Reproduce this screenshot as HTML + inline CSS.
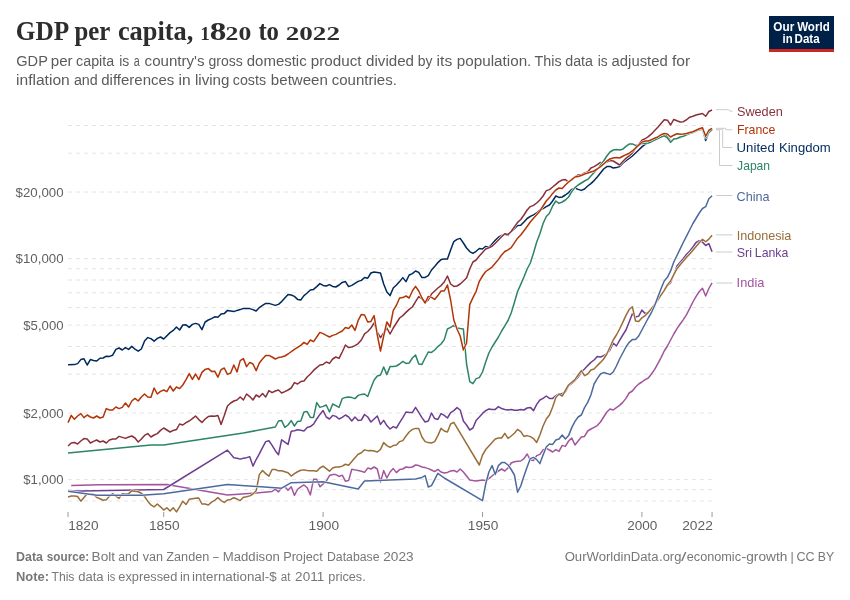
<!DOCTYPE html>
<html lang="en">
<head>
<meta charset="utf-8">
<title>GDP per capita, 1820 to 2022</title>
<style>
html,body{margin:0;padding:0;background:#fff;}
body{width:850px;height:600px;overflow:hidden;font-family:"Liberation Sans",sans-serif;}
svg{display:block;}
.sans{font-family:"Liberation Sans",sans-serif;}
.serif{font-family:"Liberation Serif",serif;}
</style>
</head>
<body>
<svg width="850" height="600" viewBox="0 0 850 600">
<rect x="0" y="0" width="850" height="600" fill="#ffffff"/>

<!-- header -->
<text class="serif" y="40" font-size="27" font-weight="700" fill="#2d2d2d"><tspan x="15.87" font-size="27" textLength="52.05" lengthAdjust="spacingAndGlyphs">GDP</tspan> <tspan x="74.39" font-size="27" textLength="35.47" lengthAdjust="spacingAndGlyphs">per</tspan> <tspan x="117.88" font-size="27" textLength="75.44" lengthAdjust="spacingAndGlyphs">capita,</tspan> <tspan x="200.28" font-size="18.8" textLength="9.61" lengthAdjust="spacingAndGlyphs">1</tspan><tspan x="209.85" font-size="25.8" textLength="16.59" lengthAdjust="spacingAndGlyphs">8</tspan><tspan x="225.55" font-size="18.8" textLength="25.69" lengthAdjust="spacingAndGlyphs">20</tspan> <tspan x="258.38" font-size="27" textLength="20.63" lengthAdjust="spacingAndGlyphs">to</tspan> <tspan x="285.75" font-size="18.8" textLength="54.21" lengthAdjust="spacingAndGlyphs">2022</tspan></text>
<text class="sans" y="66.4" font-size="14" fill="#5b5b5b"><tspan x="16.27" textLength="31.37" lengthAdjust="spacingAndGlyphs">GDP</tspan> <tspan x="50.79" textLength="21.83" lengthAdjust="spacingAndGlyphs">per</tspan> <tspan x="76.14" textLength="38.06" lengthAdjust="spacingAndGlyphs">capita</tspan> <tspan x="119.13" textLength="10.10" lengthAdjust="spacingAndGlyphs">is</tspan> <tspan x="133.81" textLength="5.99" lengthAdjust="spacingAndGlyphs">a</tspan> <tspan x="144.58" textLength="59.98" lengthAdjust="spacingAndGlyphs">country's</tspan> <tspan x="208.48" textLength="34.24" lengthAdjust="spacingAndGlyphs">gross</tspan> <tspan x="246.79" textLength="59.87" lengthAdjust="spacingAndGlyphs">domestic</tspan> <tspan x="310.83" textLength="50.73" lengthAdjust="spacingAndGlyphs">product</tspan> <tspan x="366.07" textLength="47.97" lengthAdjust="spacingAndGlyphs">divided</tspan> <tspan x="417.63" textLength="14.73" lengthAdjust="spacingAndGlyphs">by</tspan> <tspan x="436.60" textLength="15.60" lengthAdjust="spacingAndGlyphs">its</tspan> <tspan x="456.82" textLength="74.53" lengthAdjust="spacingAndGlyphs">population.</tspan> <tspan x="534.59" textLength="27.08" lengthAdjust="spacingAndGlyphs">This</tspan> <tspan x="565.29" textLength="27.71" lengthAdjust="spacingAndGlyphs">data</tspan> <tspan x="597.80" textLength="9.92" lengthAdjust="spacingAndGlyphs">is</tspan> <tspan x="611.63" textLength="56.04" lengthAdjust="spacingAndGlyphs">adjusted</tspan> <tspan x="671.94" textLength="18.31" lengthAdjust="spacingAndGlyphs">for</tspan></text>
<text class="sans" y="84.6" font-size="14" fill="#5b5b5b"><tspan x="16.00" textLength="53.74" lengthAdjust="spacingAndGlyphs">inflation</tspan> <tspan x="73.90" textLength="23.83" lengthAdjust="spacingAndGlyphs">and</tspan> <tspan x="101.24" textLength="73.12" lengthAdjust="spacingAndGlyphs">differences</tspan> <tspan x="178.64" textLength="12.13" lengthAdjust="spacingAndGlyphs">in</tspan> <tspan x="194.94" textLength="34.42" lengthAdjust="spacingAndGlyphs">living</tspan> <tspan x="232.78" textLength="33.24" lengthAdjust="spacingAndGlyphs">costs</tspan> <tspan x="270.86" textLength="57.03" lengthAdjust="spacingAndGlyphs">between</tspan> <tspan x="331.78" textLength="65.07" lengthAdjust="spacingAndGlyphs">countries.</tspan></text>

<!-- logo -->
<g>
<rect x="769" y="16" width="65" height="36" fill="#002147"/>
<rect x="769" y="49" width="65" height="3" fill="#ce261e"/>
<text class="sans" y="30.7" font-size="12.2" font-weight="700" fill="#ffffff"><tspan x="773.34" textLength="20.87" lengthAdjust="spacingAndGlyphs">Our</tspan> <tspan x="797.15" textLength="32.62" lengthAdjust="spacingAndGlyphs">World</tspan></text>
<text class="sans" y="42.7" font-size="12.2" font-weight="700" fill="#ffffff"><tspan x="782.60" textLength="10.09" lengthAdjust="spacingAndGlyphs">in</tspan> <tspan x="794.52" textLength="25.13" lengthAdjust="spacingAndGlyphs">Data</tspan></text>
</g>

<!-- y axis labels -->
<g class="sans" font-size="13" fill="#5f5f5f">
<text x="15.60" y="196.6" textLength="47.91" lengthAdjust="spacingAndGlyphs">$20,000</text>
<text x="15.60" y="263.0" textLength="47.91" lengthAdjust="spacingAndGlyphs">$10,000</text>
<text x="23.30" y="329.7" textLength="40.21" lengthAdjust="spacingAndGlyphs">$5,000</text>
<text x="23.30" y="417.6" textLength="40.21" lengthAdjust="spacingAndGlyphs">$2,000</text>
<text x="23.30" y="484.2" textLength="40.21" lengthAdjust="spacingAndGlyphs">$1,000</text>
</g>

<!-- chart lines -->
<line x1="68.05" x2="712.05" y1="501.02" y2="501.02" stroke="#e4e4e4" stroke-dasharray="4,4" stroke-width="1"/>
<line x1="68.05" x2="712.05" y1="489.71" y2="489.71" stroke="#e4e4e4" stroke-dasharray="4,4" stroke-width="1"/>
<line x1="68.05" x2="712.05" y1="479.60" y2="479.60" stroke="#e4e4e4" stroke-dasharray="4,4" stroke-width="1"/>
<line x1="68.05" x2="712.05" y1="413.07" y2="413.07" stroke="#e4e4e4" stroke-dasharray="4,4" stroke-width="1"/>
<line x1="68.05" x2="712.05" y1="374.16" y2="374.16" stroke="#e4e4e4" stroke-dasharray="4,4" stroke-width="1"/>
<line x1="68.05" x2="712.05" y1="346.54" y2="346.54" stroke="#e4e4e4" stroke-dasharray="4,4" stroke-width="1"/>
<line x1="68.05" x2="712.05" y1="325.13" y2="325.13" stroke="#e4e4e4" stroke-dasharray="4,4" stroke-width="1"/>
<line x1="68.05" x2="712.05" y1="307.63" y2="307.63" stroke="#e4e4e4" stroke-dasharray="4,4" stroke-width="1"/>
<line x1="68.05" x2="712.05" y1="292.83" y2="292.83" stroke="#e4e4e4" stroke-dasharray="4,4" stroke-width="1"/>
<line x1="68.05" x2="712.05" y1="280.02" y2="280.02" stroke="#e4e4e4" stroke-dasharray="4,4" stroke-width="1"/>
<line x1="68.05" x2="712.05" y1="268.71" y2="268.71" stroke="#e4e4e4" stroke-dasharray="4,4" stroke-width="1"/>
<line x1="68.05" x2="712.05" y1="258.60" y2="258.60" stroke="#e4e4e4" stroke-dasharray="4,4" stroke-width="1"/>
<line x1="68.05" x2="712.05" y1="192.07" y2="192.07" stroke="#e4e4e4" stroke-dasharray="4,4" stroke-width="1"/>
<line x1="68.05" x2="712.05" y1="153.16" y2="153.16" stroke="#e4e4e4" stroke-dasharray="4,4" stroke-width="1"/>
<line x1="68.05" x2="712.05" y1="125.54" y2="125.54" stroke="#e4e4e4" stroke-dasharray="4,4" stroke-width="1"/>
<polyline fill="none" stroke="#fff" stroke-width="2.5" stroke-linejoin="round" stroke-linecap="butt" points="68.05,364.80 74.43,364.60 77.61,363.60 80.80,359.60 83.99,358.80 87.18,365.00 90.37,359.60 93.55,360.40 96.74,361.00 99.93,358.20 103.12,358.00 106.31,356.20 109.50,356.40 112.68,355.20 115.87,349.40 119.06,348.00 122.25,350.00 125.44,347.60 128.62,349.40 131.81,346.40 135.00,349.20 138.19,351.20 141.38,349.00 144.56,341.00 147.75,337.60 150.94,338.60 154.13,341.20 157.32,338.40 160.51,337.00 163.69,339.00 170.07,332.60 173.26,330.40 176.45,327.00 179.63,330.00 182.82,325.00 186.01,324.80 189.20,327.40 192.39,324.40 195.57,323.40 198.76,324.40 201.95,329.60 205.14,322.00 208.33,320.00 211.52,318.60 214.70,316.80 217.89,317.20 221.08,314.00 224.27,313.60 227.46,310.40 230.64,311.00 233.83,311.60 237.02,310.40 240.21,309.60 243.40,308.40 246.58,308.60 249.77,308.60 252.96,309.60 256.15,311.00 259.34,307.60 262.53,305.40 265.71,303.40 268.90,303.40 272.09,304.40 275.28,305.40 278.47,304.40 281.65,301.60 284.84,298.00 288.03,294.60 291.22,295.00 294.41,296.40 297.59,299.40 300.78,300.00 303.97,295.60 307.16,293.00 310.35,290.00 313.54,289.40 316.72,286.60 319.91,283.60 323.10,285.40 326.29,286.00 329.48,284.60 332.66,286.40 335.85,287.00 339.04,285.00 342.23,282.40 345.42,281.60 348.60,286.60 351.79,285.40 354.98,283.40 358.17,281.40 361.36,280.40 364.55,277.50 367.73,278.20 370.92,273.00 374.11,272.00 377.30,272.40 380.49,273.00 383.67,284.00 386.86,292.00 390.05,295.60 393.24,288.00 396.43,285.00 399.61,281.60 402.80,277.60 405.99,281.60 409.18,275.00 412.37,273.60 415.55,271.00 418.74,272.40 421.93,277.60 425.12,277.40 428.31,275.60 431.50,270.00 434.68,266.40 437.87,262.60 441.06,259.60 444.25,259.00 447.44,259.00 450.62,250.00 453.81,241.60 457.00,239.40 460.19,238.40 463.38,243.00 466.56,248.00 469.75,251.60 472.94,253.30 476.13,251.30 479.32,248.50 482.51,249.00 485.69,246.40 488.88,247.40 492.07,244.00 495.26,240.20 498.45,237.20 501.63,235.53 504.82,234.20 508.01,235.40 511.20,231.87 514.39,228.67 517.57,225.47 520.76,225.30 523.95,222.00 527.14,218.50 530.33,216.40 533.52,214.80 536.70,213.00 539.89,210.00 543.08,208.60 546.27,206.60 549.46,205.00 552.64,201.00 555.83,196.00 559.02,197.40 562.21,197.00 565.40,195.00 568.58,192.60 571.77,189.40 574.96,188.00 578.15,189.40 581.34,190.40 584.53,189.00 587.71,186.00 590.90,183.60 594.09,180.60 597.28,177.00 600.47,173.00 603.65,169.00 606.84,166.60 610.03,166.40 613.22,168.00 616.41,167.60 619.59,166.60 622.78,163.12 625.97,160.62 629.16,158.50 632.35,156.00 635.54,153.00 638.72,150.00 641.91,146.85 645.10,144.30 648.29,142.85 651.48,141.60 654.66,139.78 657.85,138.18 661.04,136.25 664.23,135.20 667.42,136.25 670.60,141.50 673.79,138.95 676.98,138.50 680.17,137.45 683.36,135.95 686.55,134.30 689.73,133.25 692.92,132.05 696.11,130.70 699.30,129.50 702.49,128.75 705.67,140.60 708.86,132.50 712.05,129.20"/>
<polyline fill="none" stroke="#00295B" stroke-width="1.5" stroke-linejoin="round" stroke-linecap="butt" points="68.05,364.80 74.43,364.60 77.61,363.60 80.80,359.60 83.99,358.80 87.18,365.00 90.37,359.60 93.55,360.40 96.74,361.00 99.93,358.20 103.12,358.00 106.31,356.20 109.50,356.40 112.68,355.20 115.87,349.40 119.06,348.00 122.25,350.00 125.44,347.60 128.62,349.40 131.81,346.40 135.00,349.20 138.19,351.20 141.38,349.00 144.56,341.00 147.75,337.60 150.94,338.60 154.13,341.20 157.32,338.40 160.51,337.00 163.69,339.00 170.07,332.60 173.26,330.40 176.45,327.00 179.63,330.00 182.82,325.00 186.01,324.80 189.20,327.40 192.39,324.40 195.57,323.40 198.76,324.40 201.95,329.60 205.14,322.00 208.33,320.00 211.52,318.60 214.70,316.80 217.89,317.20 221.08,314.00 224.27,313.60 227.46,310.40 230.64,311.00 233.83,311.60 237.02,310.40 240.21,309.60 243.40,308.40 246.58,308.60 249.77,308.60 252.96,309.60 256.15,311.00 259.34,307.60 262.53,305.40 265.71,303.40 268.90,303.40 272.09,304.40 275.28,305.40 278.47,304.40 281.65,301.60 284.84,298.00 288.03,294.60 291.22,295.00 294.41,296.40 297.59,299.40 300.78,300.00 303.97,295.60 307.16,293.00 310.35,290.00 313.54,289.40 316.72,286.60 319.91,283.60 323.10,285.40 326.29,286.00 329.48,284.60 332.66,286.40 335.85,287.00 339.04,285.00 342.23,282.40 345.42,281.60 348.60,286.60 351.79,285.40 354.98,283.40 358.17,281.40 361.36,280.40 364.55,277.50 367.73,278.20 370.92,273.00 374.11,272.00 377.30,272.40 380.49,273.00 383.67,284.00 386.86,292.00 390.05,295.60 393.24,288.00 396.43,285.00 399.61,281.60 402.80,277.60 405.99,281.60 409.18,275.00 412.37,273.60 415.55,271.00 418.74,272.40 421.93,277.60 425.12,277.40 428.31,275.60 431.50,270.00 434.68,266.40 437.87,262.60 441.06,259.60 444.25,259.00 447.44,259.00 450.62,250.00 453.81,241.60 457.00,239.40 460.19,238.40 463.38,243.00 466.56,248.00 469.75,251.60 472.94,253.30 476.13,251.30 479.32,248.50 482.51,249.00 485.69,246.40 488.88,247.40 492.07,244.00 495.26,240.20 498.45,237.20 501.63,235.53 504.82,234.20 508.01,235.40 511.20,231.87 514.39,228.67 517.57,225.47 520.76,225.30 523.95,222.00 527.14,218.50 530.33,216.40 533.52,214.80 536.70,213.00 539.89,210.00 543.08,208.60 546.27,206.60 549.46,205.00 552.64,201.00 555.83,196.00 559.02,197.40 562.21,197.00 565.40,195.00 568.58,192.60 571.77,189.40 574.96,188.00 578.15,189.40 581.34,190.40 584.53,189.00 587.71,186.00 590.90,183.60 594.09,180.60 597.28,177.00 600.47,173.00 603.65,169.00 606.84,166.60 610.03,166.40 613.22,168.00 616.41,167.60 619.59,166.60 622.78,163.12 625.97,160.62 629.16,158.50 632.35,156.00 635.54,153.00 638.72,150.00 641.91,146.85 645.10,144.30 648.29,142.85 651.48,141.60 654.66,139.78 657.85,138.18 661.04,136.25 664.23,135.20 667.42,136.25 670.60,141.50 673.79,138.95 676.98,138.50 680.17,137.45 683.36,135.95 686.55,134.30 689.73,133.25 692.92,132.05 696.11,130.70 699.30,129.50 702.49,128.75 705.67,140.60 708.86,132.50 712.05,129.20"/>
<polyline fill="none" stroke="#fff" stroke-width="2.5" stroke-linejoin="round" stroke-linecap="butt" points="68.05,446.00 71.24,443.00 74.43,442.40 77.61,444.00 80.80,441.00 83.99,438.60 87.18,439.00 90.37,443.00 93.55,441.40 96.74,440.00 99.93,442.00 103.12,441.00 106.31,443.00 109.50,440.00 112.68,439.00 115.87,439.00 119.06,436.40 122.25,437.40 125.44,438.40 128.62,437.00 131.81,436.00 135.00,438.00 138.19,442.00 141.38,439.00 144.56,435.40 147.75,433.60 150.94,437.00 154.13,435.00 157.32,433.60 160.51,430.40 163.69,428.00 166.88,430.00 170.07,432.00 173.26,430.40 176.45,429.60 179.63,424.00 182.82,425.00 186.01,422.60 189.20,421.00 192.39,418.60 195.57,416.00 198.76,419.60 201.95,422.40 205.14,419.00 208.33,416.60 211.52,416.00 214.70,416.30 217.89,415.60 221.08,424.40 224.27,415.60 227.46,406.00 230.64,403.00 233.83,401.00 237.02,400.00 240.21,397.00 243.40,400.00 246.58,394.00 249.77,396.60 252.96,400.00 256.15,395.00 259.34,397.00 262.53,393.60 265.71,397.00 268.90,390.60 272.09,392.60 275.28,391.00 278.47,390.00 281.65,393.00 284.84,391.60 288.03,390.00 291.22,388.00 294.41,382.60 297.59,384.00 300.78,381.60 303.97,381.00 307.16,377.00 310.35,374.00 313.54,370.40 316.72,367.60 319.91,365.00 323.10,364.40 326.29,362.00 329.48,363.40 332.66,359.00 335.85,357.00 339.04,358.40 342.23,352.00 345.42,345.00 348.60,347.60 351.79,347.00 354.98,345.60 358.17,343.60 361.36,340.00 364.55,333.80 367.73,331.50 370.92,328.00 374.11,323.00 377.30,332.00 380.49,337.60 383.67,333.00 386.86,328.00 390.05,334.00 393.24,328.00 396.43,323.00 399.61,318.00 402.80,315.60 405.99,312.40 409.18,309.40 412.37,307.00 415.55,301.60 418.74,296.60 421.93,299.00 425.12,302.60 428.31,300.00 431.50,294.00 434.68,291.00 437.87,288.00 441.06,285.60 444.25,282.00 447.44,276.00 450.62,284.00 453.81,286.40 457.00,286.00 460.19,284.00 463.38,281.00 466.56,278.00 469.75,269.00 472.94,262.00 476.13,260.00 479.32,256.00 482.51,252.40 485.69,249.00 488.88,247.80 492.07,246.30 495.26,243.30 498.45,240.00 501.63,236.73 504.82,233.73 508.01,234.47 511.20,231.47 514.39,227.00 517.57,222.33 520.76,219.50 523.95,215.00 527.14,210.00 530.33,206.60 533.52,205.40 536.70,203.00 539.89,200.00 543.08,196.00 546.27,190.60 549.46,189.60 552.64,187.00 555.83,184.40 559.02,181.60 562.21,180.00 565.40,179.60 568.58,182.00 571.77,179.40 574.96,177.00 578.15,175.00 581.34,175.00 584.53,173.00 587.71,172.00 590.90,168.00 594.09,166.60 597.28,164.60 600.47,162.40 603.65,164.00 606.84,162.00 610.03,160.60 613.22,161.00 616.41,163.00 619.59,165.00 622.78,161.50 625.97,158.30 629.16,155.88 632.35,152.88 635.54,148.62 638.72,144.38 641.91,140.20 645.10,138.75 648.29,136.57 651.48,133.95 654.66,130.50 657.85,127.25 661.04,123.50 664.23,119.75 667.42,120.20 670.60,125.00 673.79,119.45 676.98,120.80 680.17,122.00 683.36,121.70 686.55,119.75 689.73,117.20 692.92,116.30 696.11,114.95 699.30,114.20 702.49,113.45 705.67,116.30 708.86,111.50 712.05,110.00"/>
<polyline fill="none" stroke="#883039" stroke-width="1.5" stroke-linejoin="round" stroke-linecap="butt" points="68.05,446.00 71.24,443.00 74.43,442.40 77.61,444.00 80.80,441.00 83.99,438.60 87.18,439.00 90.37,443.00 93.55,441.40 96.74,440.00 99.93,442.00 103.12,441.00 106.31,443.00 109.50,440.00 112.68,439.00 115.87,439.00 119.06,436.40 122.25,437.40 125.44,438.40 128.62,437.00 131.81,436.00 135.00,438.00 138.19,442.00 141.38,439.00 144.56,435.40 147.75,433.60 150.94,437.00 154.13,435.00 157.32,433.60 160.51,430.40 163.69,428.00 166.88,430.00 170.07,432.00 173.26,430.40 176.45,429.60 179.63,424.00 182.82,425.00 186.01,422.60 189.20,421.00 192.39,418.60 195.57,416.00 198.76,419.60 201.95,422.40 205.14,419.00 208.33,416.60 211.52,416.00 214.70,416.30 217.89,415.60 221.08,424.40 224.27,415.60 227.46,406.00 230.64,403.00 233.83,401.00 237.02,400.00 240.21,397.00 243.40,400.00 246.58,394.00 249.77,396.60 252.96,400.00 256.15,395.00 259.34,397.00 262.53,393.60 265.71,397.00 268.90,390.60 272.09,392.60 275.28,391.00 278.47,390.00 281.65,393.00 284.84,391.60 288.03,390.00 291.22,388.00 294.41,382.60 297.59,384.00 300.78,381.60 303.97,381.00 307.16,377.00 310.35,374.00 313.54,370.40 316.72,367.60 319.91,365.00 323.10,364.40 326.29,362.00 329.48,363.40 332.66,359.00 335.85,357.00 339.04,358.40 342.23,352.00 345.42,345.00 348.60,347.60 351.79,347.00 354.98,345.60 358.17,343.60 361.36,340.00 364.55,333.80 367.73,331.50 370.92,328.00 374.11,323.00 377.30,332.00 380.49,337.60 383.67,333.00 386.86,328.00 390.05,334.00 393.24,328.00 396.43,323.00 399.61,318.00 402.80,315.60 405.99,312.40 409.18,309.40 412.37,307.00 415.55,301.60 418.74,296.60 421.93,299.00 425.12,302.60 428.31,300.00 431.50,294.00 434.68,291.00 437.87,288.00 441.06,285.60 444.25,282.00 447.44,276.00 450.62,284.00 453.81,286.40 457.00,286.00 460.19,284.00 463.38,281.00 466.56,278.00 469.75,269.00 472.94,262.00 476.13,260.00 479.32,256.00 482.51,252.40 485.69,249.00 488.88,247.80 492.07,246.30 495.26,243.30 498.45,240.00 501.63,236.73 504.82,233.73 508.01,234.47 511.20,231.47 514.39,227.00 517.57,222.33 520.76,219.50 523.95,215.00 527.14,210.00 530.33,206.60 533.52,205.40 536.70,203.00 539.89,200.00 543.08,196.00 546.27,190.60 549.46,189.60 552.64,187.00 555.83,184.40 559.02,181.60 562.21,180.00 565.40,179.60 568.58,182.00 571.77,179.40 574.96,177.00 578.15,175.00 581.34,175.00 584.53,173.00 587.71,172.00 590.90,168.00 594.09,166.60 597.28,164.60 600.47,162.40 603.65,164.00 606.84,162.00 610.03,160.60 613.22,161.00 616.41,163.00 619.59,165.00 622.78,161.50 625.97,158.30 629.16,155.88 632.35,152.88 635.54,148.62 638.72,144.38 641.91,140.20 645.10,138.75 648.29,136.57 651.48,133.95 654.66,130.50 657.85,127.25 661.04,123.50 664.23,119.75 667.42,120.20 670.60,125.00 673.79,119.45 676.98,120.80 680.17,122.00 683.36,121.70 686.55,119.75 689.73,117.20 692.92,116.30 696.11,114.95 699.30,114.20 702.49,113.45 705.67,116.30 708.86,111.50 712.05,110.00"/>
<polyline fill="none" stroke="#fff" stroke-width="2.5" stroke-linejoin="round" stroke-linecap="butt" points="71.24,485.55 99.93,484.80 166.88,484.61 227.46,494.92 256.15,493.04 272.09,491.53 275.28,489.08 278.47,491.91 281.65,487.76 284.84,486.82 288.03,490.21 291.22,486.82 294.41,495.29 297.59,489.27 300.78,486.82 303.97,484.94 307.16,487.76 310.35,494.92 313.54,479.29 316.72,479.29 319.91,486.82 323.10,484.00 326.29,481.18 329.48,475.53 332.66,474.59 335.85,474.59 339.04,476.47 342.23,475.15 345.42,481.18 348.60,480.61 351.79,469.32 354.98,469.88 358.17,470.45 361.36,471.21 364.55,472.35 367.73,468.08 370.92,469.00 374.11,467.00 377.30,469.00 380.49,482.00 383.67,470.60 386.86,478.00 390.05,472.00 393.24,468.60 396.43,472.60 399.61,469.60 402.80,469.00 405.99,467.00 409.18,467.60 412.37,467.00 415.55,465.00 418.74,465.60 421.93,467.00 425.12,467.60 428.31,468.60 431.50,470.00 434.68,471.60 437.87,469.40 441.06,472.00 444.25,473.00 447.44,472.40 450.62,471.00 453.81,470.40 457.00,472.00 460.19,469.00 463.38,472.00 466.56,476.00 469.75,480.00 472.94,480.60 476.13,481.00 479.32,480.40 482.51,480.00 485.69,480.40 488.88,478.60 492.07,476.00 495.26,473.00 498.45,471.00 501.63,469.00 504.82,471.00 508.01,468.00 511.20,463.00 514.39,461.70 517.57,461.30 520.76,461.00 523.95,458.60 527.14,454.00 530.33,460.00 533.52,460.60 536.70,455.60 539.89,454.40 543.08,450.00 546.27,448.40 549.46,450.00 552.64,452.00 555.83,449.60 559.02,451.40 562.21,445.40 565.40,446.40 568.58,441.00 571.77,438.00 574.96,445.00 578.15,441.00 581.34,437.00 584.53,436.40 587.71,431.00 590.90,429.00 594.09,427.40 597.28,425.60 600.47,422.00 603.65,417.00 606.84,412.00 610.03,409.00 613.22,410.00 616.41,407.60 619.59,405.40 622.78,402.40 625.97,398.40 629.16,393.00 632.35,391.00 635.54,387.00 638.72,384.00 641.91,382.00 645.10,379.60 648.29,378.00 651.48,374.00 654.66,369.40 657.85,363.60 661.04,357.60 664.23,351.00 667.42,346.00 670.60,340.00 673.79,334.00 676.98,328.60 680.17,324.00 683.36,319.60 686.55,314.57 689.73,308.38 692.92,302.00 696.11,296.38 699.30,291.50 702.49,288.20 705.67,296.00 708.86,288.50 712.05,282.80"/>
<polyline fill="none" stroke="#A2559C" stroke-width="1.5" stroke-linejoin="round" stroke-linecap="butt" points="71.24,485.55 99.93,484.80 166.88,484.61 227.46,494.92 256.15,493.04 272.09,491.53 275.28,489.08 278.47,491.91 281.65,487.76 284.84,486.82 288.03,490.21 291.22,486.82 294.41,495.29 297.59,489.27 300.78,486.82 303.97,484.94 307.16,487.76 310.35,494.92 313.54,479.29 316.72,479.29 319.91,486.82 323.10,484.00 326.29,481.18 329.48,475.53 332.66,474.59 335.85,474.59 339.04,476.47 342.23,475.15 345.42,481.18 348.60,480.61 351.79,469.32 354.98,469.88 358.17,470.45 361.36,471.21 364.55,472.35 367.73,468.08 370.92,469.00 374.11,467.00 377.30,469.00 380.49,482.00 383.67,470.60 386.86,478.00 390.05,472.00 393.24,468.60 396.43,472.60 399.61,469.60 402.80,469.00 405.99,467.00 409.18,467.60 412.37,467.00 415.55,465.00 418.74,465.60 421.93,467.00 425.12,467.60 428.31,468.60 431.50,470.00 434.68,471.60 437.87,469.40 441.06,472.00 444.25,473.00 447.44,472.40 450.62,471.00 453.81,470.40 457.00,472.00 460.19,469.00 463.38,472.00 466.56,476.00 469.75,480.00 472.94,480.60 476.13,481.00 479.32,480.40 482.51,480.00 485.69,480.40 488.88,478.60 492.07,476.00 495.26,473.00 498.45,471.00 501.63,469.00 504.82,471.00 508.01,468.00 511.20,463.00 514.39,461.70 517.57,461.30 520.76,461.00 523.95,458.60 527.14,454.00 530.33,460.00 533.52,460.60 536.70,455.60 539.89,454.40 543.08,450.00 546.27,448.40 549.46,450.00 552.64,452.00 555.83,449.60 559.02,451.40 562.21,445.40 565.40,446.40 568.58,441.00 571.77,438.00 574.96,445.00 578.15,441.00 581.34,437.00 584.53,436.40 587.71,431.00 590.90,429.00 594.09,427.40 597.28,425.60 600.47,422.00 603.65,417.00 606.84,412.00 610.03,409.00 613.22,410.00 616.41,407.60 619.59,405.40 622.78,402.40 625.97,398.40 629.16,393.00 632.35,391.00 635.54,387.00 638.72,384.00 641.91,382.00 645.10,379.60 648.29,378.00 651.48,374.00 654.66,369.40 657.85,363.60 661.04,357.60 664.23,351.00 667.42,346.00 670.60,340.00 673.79,334.00 676.98,328.60 680.17,324.00 683.36,319.60 686.55,314.57 689.73,308.38 692.92,302.00 696.11,296.38 699.30,291.50 702.49,288.20 705.67,296.00 708.86,288.50 712.05,282.80"/>
<polyline fill="none" stroke="#fff" stroke-width="2.5" stroke-linejoin="round" stroke-linecap="butt" points="68.05,491.20 163.69,489.51 227.46,450.12 233.83,457.65 237.02,458.21 240.21,459.15 243.40,458.21 246.58,457.65 249.77,456.71 252.96,466.12 256.15,459.53 259.34,453.88 262.53,447.67 265.71,441.65 268.90,440.71 272.09,445.41 275.28,450.68 278.47,454.82 281.65,439.76 284.84,442.21 288.03,444.47 291.22,431.29 294.41,430.73 297.59,429.79 300.78,430.35 303.97,430.92 307.16,427.53 310.35,426.59 313.54,424.14 316.72,419.00 319.91,414.40 323.10,410.60 326.29,417.00 329.48,419.00 332.66,415.40 335.85,416.40 339.04,419.00 342.23,417.40 345.42,415.00 348.60,417.00 351.79,421.00 354.98,417.00 358.17,420.60 361.36,420.00 364.55,414.50 367.73,417.00 370.92,422.00 374.11,419.00 377.30,416.00 380.49,424.40 383.67,420.40 386.86,425.60 390.05,429.00 393.24,426.60 396.43,428.00 399.61,422.60 402.80,417.60 405.99,412.00 409.18,412.60 412.37,412.60 415.55,407.40 418.74,412.40 421.93,417.60 425.12,422.00 428.31,421.00 431.50,413.00 434.68,418.60 437.87,419.40 441.06,413.60 444.25,415.40 447.44,418.00 450.62,412.60 453.81,410.60 457.00,407.60 460.19,410.00 463.38,421.00 466.56,425.00 469.75,430.00 472.94,428.00 476.13,420.40 479.32,417.00 482.51,413.40 485.69,410.60 488.88,409.00 492.07,409.60 495.26,409.40 498.45,406.60 501.63,408.60 504.82,409.40 508.01,410.00 511.20,409.40 514.39,410.20 517.57,410.30 520.76,409.60 523.95,410.00 527.14,408.00 530.33,407.40 533.52,410.60 536.70,404.40 539.89,400.00 543.08,398.40 546.27,396.00 549.46,398.40 552.64,398.40 555.83,395.60 559.02,394.00 562.21,393.60 565.40,392.00 568.58,386.00 574.96,380.60 578.15,377.00 581.34,372.00 584.53,369.00 587.71,365.60 590.90,362.40 594.09,360.00 597.28,356.40 600.47,357.00 603.65,355.60 606.84,353.60 610.03,350.00 613.22,343.00 616.41,346.00 619.59,340.40 622.78,335.00 625.97,330.00 629.16,322.00 632.35,313.80 635.54,317.00 638.72,316.12 641.91,310.12 645.10,313.43 648.29,312.38 651.48,308.85 654.66,304.85 657.85,300.45 661.04,294.68 664.23,290.43 667.42,285.80 670.60,282.75 673.79,274.75 676.98,266.00 680.17,262.23 683.36,258.48 686.55,254.28 689.73,251.28 692.92,247.00 696.11,242.50 699.30,240.62 702.49,242.12 705.67,245.50 708.86,243.62 712.05,251.72"/>
<polyline fill="none" stroke="#6D3E91" stroke-width="1.5" stroke-linejoin="round" stroke-linecap="butt" points="68.05,491.20 163.69,489.51 227.46,450.12 233.83,457.65 237.02,458.21 240.21,459.15 243.40,458.21 246.58,457.65 249.77,456.71 252.96,466.12 256.15,459.53 259.34,453.88 262.53,447.67 265.71,441.65 268.90,440.71 272.09,445.41 275.28,450.68 278.47,454.82 281.65,439.76 284.84,442.21 288.03,444.47 291.22,431.29 294.41,430.73 297.59,429.79 300.78,430.35 303.97,430.92 307.16,427.53 310.35,426.59 313.54,424.14 316.72,419.00 319.91,414.40 323.10,410.60 326.29,417.00 329.48,419.00 332.66,415.40 335.85,416.40 339.04,419.00 342.23,417.40 345.42,415.00 348.60,417.00 351.79,421.00 354.98,417.00 358.17,420.60 361.36,420.00 364.55,414.50 367.73,417.00 370.92,422.00 374.11,419.00 377.30,416.00 380.49,424.40 383.67,420.40 386.86,425.60 390.05,429.00 393.24,426.60 396.43,428.00 399.61,422.60 402.80,417.60 405.99,412.00 409.18,412.60 412.37,412.60 415.55,407.40 418.74,412.40 421.93,417.60 425.12,422.00 428.31,421.00 431.50,413.00 434.68,418.60 437.87,419.40 441.06,413.60 444.25,415.40 447.44,418.00 450.62,412.60 453.81,410.60 457.00,407.60 460.19,410.00 463.38,421.00 466.56,425.00 469.75,430.00 472.94,428.00 476.13,420.40 479.32,417.00 482.51,413.40 485.69,410.60 488.88,409.00 492.07,409.60 495.26,409.40 498.45,406.60 501.63,408.60 504.82,409.40 508.01,410.00 511.20,409.40 514.39,410.20 517.57,410.30 520.76,409.60 523.95,410.00 527.14,408.00 530.33,407.40 533.52,410.60 536.70,404.40 539.89,400.00 543.08,398.40 546.27,396.00 549.46,398.40 552.64,398.40 555.83,395.60 559.02,394.00 562.21,393.60 565.40,392.00 568.58,386.00 574.96,380.60 578.15,377.00 581.34,372.00 584.53,369.00 587.71,365.60 590.90,362.40 594.09,360.00 597.28,356.40 600.47,357.00 603.65,355.60 606.84,353.60 610.03,350.00 613.22,343.00 616.41,346.00 619.59,340.40 622.78,335.00 625.97,330.00 629.16,322.00 632.35,313.80 635.54,317.00 638.72,316.12 641.91,310.12 645.10,313.43 648.29,312.38 651.48,308.85 654.66,304.85 657.85,300.45 661.04,294.68 664.23,290.43 667.42,285.80 670.60,282.75 673.79,274.75 676.98,266.00 680.17,262.23 683.36,258.48 686.55,254.28 689.73,251.28 692.92,247.00 696.11,242.50 699.30,240.62 702.49,242.12 705.67,245.50 708.86,243.62 712.05,251.72"/>
<polyline fill="none" stroke="#fff" stroke-width="2.5" stroke-linejoin="round" stroke-linecap="butt" points="68.05,453.00 150.94,445.00 163.69,445.00 243.40,433.00 275.28,427.00 278.47,421.00 281.65,420.60 284.84,427.40 288.03,425.00 291.22,420.60 294.41,426.00 297.59,421.40 300.78,421.00 303.97,412.00 307.16,411.60 310.35,417.40 313.54,417.40 316.72,402.60 319.91,407.40 323.10,406.40 326.29,405.00 329.48,412.00 332.66,404.00 335.85,405.60 339.04,407.40 342.23,398.60 345.42,397.40 348.60,397.00 351.79,397.60 354.98,398.60 358.17,395.40 361.36,394.40 364.55,394.00 367.73,396.50 370.92,388.00 374.11,380.00 377.30,376.00 380.49,375.00 383.67,367.00 386.86,374.60 390.05,366.60 393.24,366.40 396.43,366.00 399.61,364.00 402.80,361.40 405.99,363.40 409.18,363.00 412.37,358.00 415.55,355.00 418.74,364.00 421.93,364.40 425.12,358.00 428.31,352.00 431.50,352.40 434.68,350.00 437.87,346.60 441.06,344.00 444.25,339.60 447.44,329.00 450.62,327.40 453.81,325.40 457.00,328.00 460.19,328.60 463.38,329.00 466.56,364.00 469.75,381.60 472.94,383.60 476.13,378.60 479.32,377.60 482.51,372.00 485.69,362.00 488.88,353.00 492.07,347.00 495.26,342.00 498.45,337.00 501.63,331.00 504.82,325.80 508.01,320.50 511.20,313.00 514.39,302.50 517.57,291.50 520.76,284.40 523.95,277.00 527.14,269.00 530.33,263.00 533.52,253.00 536.70,242.00 539.89,233.80 543.08,223.50 546.27,216.50 549.46,213.30 552.64,206.00 555.83,201.00 559.02,203.40 562.21,202.00 565.40,200.00 568.58,197.00 571.77,191.60 574.96,187.60 578.15,185.00 581.34,183.00 584.53,181.00 587.71,179.40 590.90,176.00 594.09,172.60 597.28,169.00 600.47,165.00 603.65,161.00 606.84,156.00 610.03,152.00 613.22,150.00 616.41,149.60 619.59,150.00 622.78,149.18 625.97,146.38 629.16,144.10 632.35,143.88 635.54,145.43 638.72,145.35 641.91,143.38 645.10,143.20 648.29,143.00 651.48,141.70 654.66,140.00 657.85,138.55 661.04,137.00 664.23,135.80 667.42,137.75 670.60,142.25 673.79,138.95 676.98,138.50 680.17,137.00 683.36,136.25 686.55,134.75 689.73,133.55 692.92,132.50 696.11,131.00 699.30,129.80 702.49,129.20 705.67,138.05 708.86,132.50 712.05,129.80"/>
<polyline fill="none" stroke="#2C8465" stroke-width="1.5" stroke-linejoin="round" stroke-linecap="butt" points="68.05,453.00 150.94,445.00 163.69,445.00 243.40,433.00 275.28,427.00 278.47,421.00 281.65,420.60 284.84,427.40 288.03,425.00 291.22,420.60 294.41,426.00 297.59,421.40 300.78,421.00 303.97,412.00 307.16,411.60 310.35,417.40 313.54,417.40 316.72,402.60 319.91,407.40 323.10,406.40 326.29,405.00 329.48,412.00 332.66,404.00 335.85,405.60 339.04,407.40 342.23,398.60 345.42,397.40 348.60,397.00 351.79,397.60 354.98,398.60 358.17,395.40 361.36,394.40 364.55,394.00 367.73,396.50 370.92,388.00 374.11,380.00 377.30,376.00 380.49,375.00 383.67,367.00 386.86,374.60 390.05,366.60 393.24,366.40 396.43,366.00 399.61,364.00 402.80,361.40 405.99,363.40 409.18,363.00 412.37,358.00 415.55,355.00 418.74,364.00 421.93,364.40 425.12,358.00 428.31,352.00 431.50,352.40 434.68,350.00 437.87,346.60 441.06,344.00 444.25,339.60 447.44,329.00 450.62,327.40 453.81,325.40 457.00,328.00 460.19,328.60 463.38,329.00 466.56,364.00 469.75,381.60 472.94,383.60 476.13,378.60 479.32,377.60 482.51,372.00 485.69,362.00 488.88,353.00 492.07,347.00 495.26,342.00 498.45,337.00 501.63,331.00 504.82,325.80 508.01,320.50 511.20,313.00 514.39,302.50 517.57,291.50 520.76,284.40 523.95,277.00 527.14,269.00 530.33,263.00 533.52,253.00 536.70,242.00 539.89,233.80 543.08,223.50 546.27,216.50 549.46,213.30 552.64,206.00 555.83,201.00 559.02,203.40 562.21,202.00 565.40,200.00 568.58,197.00 571.77,191.60 574.96,187.60 578.15,185.00 581.34,183.00 584.53,181.00 587.71,179.40 590.90,176.00 594.09,172.60 597.28,169.00 600.47,165.00 603.65,161.00 606.84,156.00 610.03,152.00 613.22,150.00 616.41,149.60 619.59,150.00 622.78,149.18 625.97,146.38 629.16,144.10 632.35,143.88 635.54,145.43 638.72,145.35 641.91,143.38 645.10,143.20 648.29,143.00 651.48,141.70 654.66,140.00 657.85,138.55 661.04,137.00 664.23,135.80 667.42,137.75 670.60,142.25 673.79,138.95 676.98,138.50 680.17,137.00 683.36,136.25 686.55,134.75 689.73,133.55 692.92,132.50 696.11,131.00 699.30,129.80 702.49,129.20 705.67,138.05 708.86,132.50 712.05,129.80"/>
<polyline fill="none" stroke="#fff" stroke-width="2.5" stroke-linejoin="round" stroke-linecap="butt" points="68.05,497.04 71.24,496.09 74.43,495.91 77.61,496.47 80.80,501.18 83.99,497.41 87.18,493.65 90.37,493.65 93.55,494.21 96.74,497.41 99.93,498.73 103.12,500.24 106.31,499.86 109.50,496.09 112.68,493.65 115.87,496.09 119.06,498.35 122.25,493.65 125.44,494.21 128.62,493.65 131.81,490.82 135.00,491.20 138.19,491.76 141.38,493.27 144.56,496.47 147.75,501.18 150.94,504.94 154.13,506.82 157.32,504.00 160.51,506.82 163.69,510.02 166.88,507.76 170.07,510.96 173.26,507.76 176.45,511.91 179.63,506.82 182.82,501.18 186.01,504.56 189.20,499.29 192.39,498.73 195.57,498.35 198.76,497.98 201.95,504.00 205.14,504.00 208.33,504.94 211.52,502.12 214.70,500.40 217.89,497.58 221.08,500.56 224.27,502.45 227.46,500.00 230.64,499.44 233.83,497.74 237.02,499.06 240.21,500.56 243.40,497.18 246.58,496.80 249.77,495.86 252.96,493.98 256.15,490.78 259.34,474.59 262.53,470.45 265.71,473.65 268.90,476.09 272.09,469.51 275.28,469.51 278.47,470.82 281.65,470.82 284.84,471.76 288.03,472.71 291.22,476.09 294.41,473.65 297.59,471.76 300.78,470.26 303.97,469.88 307.16,470.45 310.35,470.82 313.54,470.82 316.72,471.20 319.91,468.00 323.10,466.12 326.29,468.56 329.48,471.20 332.66,468.00 335.85,467.06 339.04,467.06 342.23,466.12 345.42,464.24 348.60,465.18 351.79,461.41 354.98,457.65 358.17,454.26 361.36,452.77 364.55,449.86 367.73,450.64 370.92,450.60 374.11,451.00 377.30,452.00 380.49,449.40 383.67,442.60 386.86,445.60 390.05,447.40 393.24,445.60 396.43,445.00 399.61,441.60 402.80,440.60 405.99,436.00 409.18,432.00 412.37,429.40 415.55,428.40 418.74,428.60 421.93,437.00 425.12,441.60 428.31,442.60 431.50,443.00 434.68,441.60 437.87,435.60 441.06,428.40 444.25,431.00 447.44,432.00 450.62,424.00 453.81,422.40 479.32,465.00 482.51,455.00 485.69,449.60 488.88,446.00 492.07,442.40 495.26,439.00 498.45,438.00 501.63,438.00 504.82,433.40 508.01,438.40 511.20,436.00 514.39,433.30 517.57,429.40 520.76,431.60 523.95,436.40 527.14,435.60 530.33,436.60 533.52,438.60 536.70,442.40 539.89,435.00 543.08,426.00 546.27,419.00 549.46,415.00 552.64,407.00 555.83,397.40 559.02,394.00 562.21,396.00 568.58,385.00 571.77,382.40 574.96,379.60 578.15,375.00 581.34,370.60 584.53,375.60 587.71,374.00 590.90,370.00 594.09,369.00 597.28,365.60 600.47,362.40 603.65,359.00 606.84,354.00 610.03,347.00 613.22,340.00 616.41,335.00 619.59,329.00 622.78,322.40 625.97,315.38 629.16,309.55 632.35,306.70 635.54,321.00 638.72,321.60 641.91,317.80 645.10,315.68 648.29,312.38 651.48,308.50 654.66,304.43 657.85,299.88 661.04,295.12 664.23,290.30 667.42,284.88 670.60,281.00 673.79,274.62 676.98,268.70 680.17,264.70 683.36,261.10 686.55,257.35 689.73,253.90 692.92,250.15 696.11,246.47 699.30,242.65 702.49,239.28 705.67,241.75 708.86,239.12 712.05,235.22"/>
<polyline fill="none" stroke="#996D39" stroke-width="1.5" stroke-linejoin="round" stroke-linecap="butt" points="68.05,497.04 71.24,496.09 74.43,495.91 77.61,496.47 80.80,501.18 83.99,497.41 87.18,493.65 90.37,493.65 93.55,494.21 96.74,497.41 99.93,498.73 103.12,500.24 106.31,499.86 109.50,496.09 112.68,493.65 115.87,496.09 119.06,498.35 122.25,493.65 125.44,494.21 128.62,493.65 131.81,490.82 135.00,491.20 138.19,491.76 141.38,493.27 144.56,496.47 147.75,501.18 150.94,504.94 154.13,506.82 157.32,504.00 160.51,506.82 163.69,510.02 166.88,507.76 170.07,510.96 173.26,507.76 176.45,511.91 179.63,506.82 182.82,501.18 186.01,504.56 189.20,499.29 192.39,498.73 195.57,498.35 198.76,497.98 201.95,504.00 205.14,504.00 208.33,504.94 211.52,502.12 214.70,500.40 217.89,497.58 221.08,500.56 224.27,502.45 227.46,500.00 230.64,499.44 233.83,497.74 237.02,499.06 240.21,500.56 243.40,497.18 246.58,496.80 249.77,495.86 252.96,493.98 256.15,490.78 259.34,474.59 262.53,470.45 265.71,473.65 268.90,476.09 272.09,469.51 275.28,469.51 278.47,470.82 281.65,470.82 284.84,471.76 288.03,472.71 291.22,476.09 294.41,473.65 297.59,471.76 300.78,470.26 303.97,469.88 307.16,470.45 310.35,470.82 313.54,470.82 316.72,471.20 319.91,468.00 323.10,466.12 326.29,468.56 329.48,471.20 332.66,468.00 335.85,467.06 339.04,467.06 342.23,466.12 345.42,464.24 348.60,465.18 351.79,461.41 354.98,457.65 358.17,454.26 361.36,452.77 364.55,449.86 367.73,450.64 370.92,450.60 374.11,451.00 377.30,452.00 380.49,449.40 383.67,442.60 386.86,445.60 390.05,447.40 393.24,445.60 396.43,445.00 399.61,441.60 402.80,440.60 405.99,436.00 409.18,432.00 412.37,429.40 415.55,428.40 418.74,428.60 421.93,437.00 425.12,441.60 428.31,442.60 431.50,443.00 434.68,441.60 437.87,435.60 441.06,428.40 444.25,431.00 447.44,432.00 450.62,424.00 453.81,422.40 479.32,465.00 482.51,455.00 485.69,449.60 488.88,446.00 492.07,442.40 495.26,439.00 498.45,438.00 501.63,438.00 504.82,433.40 508.01,438.40 511.20,436.00 514.39,433.30 517.57,429.40 520.76,431.60 523.95,436.40 527.14,435.60 530.33,436.60 533.52,438.60 536.70,442.40 539.89,435.00 543.08,426.00 546.27,419.00 549.46,415.00 552.64,407.00 555.83,397.40 559.02,394.00 562.21,396.00 568.58,385.00 571.77,382.40 574.96,379.60 578.15,375.00 581.34,370.60 584.53,375.60 587.71,374.00 590.90,370.00 594.09,369.00 597.28,365.60 600.47,362.40 603.65,359.00 606.84,354.00 610.03,347.00 613.22,340.00 616.41,335.00 619.59,329.00 622.78,322.40 625.97,315.38 629.16,309.55 632.35,306.70 635.54,321.00 638.72,321.60 641.91,317.80 645.10,315.68 648.29,312.38 651.48,308.50 654.66,304.43 657.85,299.88 661.04,295.12 664.23,290.30 667.42,284.88 670.60,281.00 673.79,274.62 676.98,268.70 680.17,264.70 683.36,261.10 686.55,257.35 689.73,253.90 692.92,250.15 696.11,246.47 699.30,242.65 702.49,239.28 705.67,241.75 708.86,239.12 712.05,235.22"/>
<polyline fill="none" stroke="#fff" stroke-width="2.5" stroke-linejoin="round" stroke-linecap="butt" points="68.05,422.60 71.24,415.40 74.43,419.20 77.61,416.00 80.80,413.60 83.99,417.60 87.18,415.00 90.37,417.00 93.55,418.00 96.74,416.00 99.93,418.00 103.12,417.00 106.31,408.60 109.50,410.00 112.68,410.00 115.87,407.00 119.06,408.60 122.25,407.40 125.44,403.00 128.62,407.00 131.81,401.00 135.00,398.40 138.19,401.00 141.38,397.00 144.56,394.00 147.75,397.00 150.94,397.20 154.13,388.00 157.32,394.00 160.51,391.40 163.69,390.00 166.88,391.60 170.07,386.00 173.26,391.00 176.45,387.00 179.63,388.60 182.82,385.00 186.01,379.60 189.20,373.60 192.39,379.40 195.57,374.00 198.76,379.60 201.95,372.40 205.14,369.40 208.33,368.60 211.52,371.40 214.70,371.20 217.89,377.20 221.08,369.60 224.27,368.00 227.46,374.40 230.64,373.00 233.83,365.00 237.02,372.00 240.21,360.60 243.40,358.60 246.58,366.60 249.77,362.40 252.96,364.00 256.15,370.60 259.34,363.00 262.53,359.00 265.71,355.40 268.90,355.40 272.09,357.00 275.28,359.00 278.47,357.60 281.65,357.00 284.84,356.00 288.03,354.00 294.41,349.40 297.59,347.40 300.78,345.40 303.97,342.40 307.16,344.40 310.35,340.00 313.54,341.60 316.72,337.00 319.91,332.40 323.10,333.60 326.29,335.40 329.48,337.00 332.66,335.40 335.85,334.40 339.04,332.60 342.23,331.00 345.42,327.60 348.60,328.40 351.79,325.00 354.98,330.40 358.17,320.40 361.36,314.40 364.55,315.00 367.73,322.00 370.92,321.40 374.11,315.60 377.30,335.00 380.49,351.00 383.67,336.00 386.86,322.00 390.05,327.00 393.24,310.70 396.43,305.20 399.61,298.00 402.80,297.60 405.99,296.00 409.18,298.00 412.37,291.00 415.55,286.40 418.74,291.00 421.93,298.00 425.12,303.00 428.31,296.40 431.50,297.40 434.68,299.40 437.87,295.60 441.06,291.00 444.25,291.00 447.44,285.00 450.62,300.00 453.81,320.00 457.00,329.00 460.19,336.00 463.38,350.00 466.56,343.00 469.75,304.60 472.94,297.67 476.13,291.33 479.32,281.30 482.51,276.00 485.69,271.50 488.88,269.30 492.07,267.10 495.26,263.30 498.45,259.40 501.63,255.00 504.82,251.50 508.01,249.80 511.20,247.67 514.39,242.87 517.57,238.20 520.76,235.00 523.95,230.80 527.14,226.50 530.33,222.00 533.52,218.20 536.70,214.70 539.89,211.00 543.08,206.00 546.27,201.00 549.46,197.60 552.64,193.40 555.83,190.00 559.02,188.00 562.21,188.60 565.40,185.00 568.58,182.00 571.77,179.60 574.96,177.00 578.15,176.40 581.34,175.60 584.53,174.00 587.71,173.00 590.90,172.00 594.09,171.00 597.28,169.00 600.47,166.60 603.65,164.00 606.84,161.00 610.03,159.00 613.22,158.00 616.41,157.40 619.59,158.00 622.78,156.25 625.97,154.70 629.16,153.25 632.35,150.93 635.54,147.93 638.72,145.12 641.91,142.12 645.10,141.03 648.29,140.93 651.48,139.78 654.66,138.18 657.85,136.98 661.04,134.75 664.23,133.55 667.42,134.00 670.60,137.00 673.79,135.20 676.98,133.70 680.17,134.30 683.36,134.00 686.55,133.55 689.73,132.50 692.92,131.75 696.11,130.25 699.30,128.75 702.49,127.70 705.67,136.25 708.86,130.25 712.05,128.30"/>
<polyline fill="none" stroke="#B13507" stroke-width="1.5" stroke-linejoin="round" stroke-linecap="butt" points="68.05,422.60 71.24,415.40 74.43,419.20 77.61,416.00 80.80,413.60 83.99,417.60 87.18,415.00 90.37,417.00 93.55,418.00 96.74,416.00 99.93,418.00 103.12,417.00 106.31,408.60 109.50,410.00 112.68,410.00 115.87,407.00 119.06,408.60 122.25,407.40 125.44,403.00 128.62,407.00 131.81,401.00 135.00,398.40 138.19,401.00 141.38,397.00 144.56,394.00 147.75,397.00 150.94,397.20 154.13,388.00 157.32,394.00 160.51,391.40 163.69,390.00 166.88,391.60 170.07,386.00 173.26,391.00 176.45,387.00 179.63,388.60 182.82,385.00 186.01,379.60 189.20,373.60 192.39,379.40 195.57,374.00 198.76,379.60 201.95,372.40 205.14,369.40 208.33,368.60 211.52,371.40 214.70,371.20 217.89,377.20 221.08,369.60 224.27,368.00 227.46,374.40 230.64,373.00 233.83,365.00 237.02,372.00 240.21,360.60 243.40,358.60 246.58,366.60 249.77,362.40 252.96,364.00 256.15,370.60 259.34,363.00 262.53,359.00 265.71,355.40 268.90,355.40 272.09,357.00 275.28,359.00 278.47,357.60 281.65,357.00 284.84,356.00 288.03,354.00 294.41,349.40 297.59,347.40 300.78,345.40 303.97,342.40 307.16,344.40 310.35,340.00 313.54,341.60 316.72,337.00 319.91,332.40 323.10,333.60 326.29,335.40 329.48,337.00 332.66,335.40 335.85,334.40 339.04,332.60 342.23,331.00 345.42,327.60 348.60,328.40 351.79,325.00 354.98,330.40 358.17,320.40 361.36,314.40 364.55,315.00 367.73,322.00 370.92,321.40 374.11,315.60 377.30,335.00 380.49,351.00 383.67,336.00 386.86,322.00 390.05,327.00 393.24,310.70 396.43,305.20 399.61,298.00 402.80,297.60 405.99,296.00 409.18,298.00 412.37,291.00 415.55,286.40 418.74,291.00 421.93,298.00 425.12,303.00 428.31,296.40 431.50,297.40 434.68,299.40 437.87,295.60 441.06,291.00 444.25,291.00 447.44,285.00 450.62,300.00 453.81,320.00 457.00,329.00 460.19,336.00 463.38,350.00 466.56,343.00 469.75,304.60 472.94,297.67 476.13,291.33 479.32,281.30 482.51,276.00 485.69,271.50 488.88,269.30 492.07,267.10 495.26,263.30 498.45,259.40 501.63,255.00 504.82,251.50 508.01,249.80 511.20,247.67 514.39,242.87 517.57,238.20 520.76,235.00 523.95,230.80 527.14,226.50 530.33,222.00 533.52,218.20 536.70,214.70 539.89,211.00 543.08,206.00 546.27,201.00 549.46,197.60 552.64,193.40 555.83,190.00 559.02,188.00 562.21,188.60 565.40,185.00 568.58,182.00 571.77,179.60 574.96,177.00 578.15,176.40 581.34,175.60 584.53,174.00 587.71,173.00 590.90,172.00 594.09,171.00 597.28,169.00 600.47,166.60 603.65,164.00 606.84,161.00 610.03,159.00 613.22,158.00 616.41,157.40 619.59,158.00 622.78,156.25 625.97,154.70 629.16,153.25 632.35,150.93 635.54,147.93 638.72,145.12 641.91,142.12 645.10,141.03 648.29,140.93 651.48,139.78 654.66,138.18 657.85,136.98 661.04,134.75 664.23,133.55 667.42,134.00 670.60,137.00 673.79,135.20 676.98,133.70 680.17,134.30 683.36,134.00 686.55,133.55 689.73,132.50 692.92,131.75 696.11,130.25 699.30,128.75 702.49,127.70 705.67,136.25 708.86,130.25 712.05,128.30"/>
<polyline fill="none" stroke="#fff" stroke-width="2.5" stroke-linejoin="round" stroke-linecap="butt" points="68.05,491.20 96.74,495.15 141.38,495.15 163.69,493.65 227.46,484.56 281.65,488.14 291.22,482.68 323.10,481.74 358.17,489.08 364.55,481.09 415.55,479.00 421.93,477.40 425.12,475.60 428.31,487.00 431.50,485.60 437.87,473.40 444.25,478.00 482.51,500.60 485.69,484.00 488.88,472.00 492.07,465.60 495.26,474.60 498.45,465.60 501.63,462.60 504.82,462.60 508.01,465.00 511.20,469.50 514.39,475.00 517.57,492.20 520.76,486.00 523.95,476.00 527.14,467.00 530.33,458.60 533.52,457.40 536.70,459.60 539.89,463.60 543.08,455.00 546.27,447.00 549.46,444.00 552.64,444.40 555.83,440.00 559.02,439.00 562.21,435.00 565.40,439.00 568.58,435.60 571.77,427.60 574.96,421.40 578.15,417.00 581.34,415.00 584.53,407.60 587.71,402.40 590.90,395.00 594.09,384.00 597.28,378.60 600.47,374.00 603.65,372.60 606.84,373.40 610.03,374.60 613.22,372.00 616.41,366.00 619.59,359.00 622.78,353.00 625.97,347.00 629.16,342.40 632.35,339.60 635.54,339.60 638.72,336.00 641.91,330.00 645.10,324.00 648.29,318.00 651.48,312.48 654.66,305.45 657.85,297.12 661.04,288.82 664.23,281.00 667.42,277.35 670.60,270.90 673.79,262.00 676.98,255.47 680.17,248.88 683.36,242.28 686.55,236.12 689.73,229.75 692.92,223.50 696.11,218.25 699.30,213.00 702.49,208.50 705.67,206.70 708.86,198.75 712.05,195.75"/>
<polyline fill="none" stroke="#4C6A9C" stroke-width="1.5" stroke-linejoin="round" stroke-linecap="butt" points="68.05,491.20 96.74,495.15 141.38,495.15 163.69,493.65 227.46,484.56 281.65,488.14 291.22,482.68 323.10,481.74 358.17,489.08 364.55,481.09 415.55,479.00 421.93,477.40 425.12,475.60 428.31,487.00 431.50,485.60 437.87,473.40 444.25,478.00 482.51,500.60 485.69,484.00 488.88,472.00 492.07,465.60 495.26,474.60 498.45,465.60 501.63,462.60 504.82,462.60 508.01,465.00 511.20,469.50 514.39,475.00 517.57,492.20 520.76,486.00 523.95,476.00 527.14,467.00 530.33,458.60 533.52,457.40 536.70,459.60 539.89,463.60 543.08,455.00 546.27,447.00 549.46,444.00 552.64,444.40 555.83,440.00 559.02,439.00 562.21,435.00 565.40,439.00 568.58,435.60 571.77,427.60 574.96,421.40 578.15,417.00 581.34,415.00 584.53,407.60 587.71,402.40 590.90,395.00 594.09,384.00 597.28,378.60 600.47,374.00 603.65,372.60 606.84,373.40 610.03,374.60 613.22,372.00 616.41,366.00 619.59,359.00 622.78,353.00 625.97,347.00 629.16,342.40 632.35,339.60 635.54,339.60 638.72,336.00 641.91,330.00 645.10,324.00 648.29,318.00 651.48,312.48 654.66,305.45 657.85,297.12 661.04,288.82 664.23,281.00 667.42,277.35 670.60,270.90 673.79,262.00 676.98,255.47 680.17,248.88 683.36,242.28 686.55,236.12 689.73,229.75 692.92,223.50 696.11,218.25 699.30,213.00 702.49,208.50 705.67,206.70 708.86,198.75 712.05,195.75"/>

<!-- x axis -->
<g stroke="#999" stroke-width="1">
<line x1="68.05" x2="68.05" y1="512" y2="517"/>
<line x1="163.69" x2="163.69" y1="512" y2="517"/>
<line x1="323.10" x2="323.10" y1="512" y2="517"/>
<line x1="482.51" x2="482.51" y1="512" y2="517"/>
<line x1="641.91" x2="641.91" y1="512" y2="517"/>
<line x1="712.05" x2="712.05" y1="512" y2="517"/>
</g>
<g class="sans" font-size="13" fill="#5f5f5f">
<text x="68.15" y="530.3" textLength="30.37" lengthAdjust="spacingAndGlyphs">1820</text>
<text x="148.99" y="530.3" textLength="30.53" lengthAdjust="spacingAndGlyphs">1850</text>
<text x="308.50" y="530.3" textLength="30.58" lengthAdjust="spacingAndGlyphs">1900</text>
<text x="467.80" y="530.3" textLength="30.44" lengthAdjust="spacingAndGlyphs">1950</text>
<text x="627.21" y="530.3" textLength="30.16" lengthAdjust="spacingAndGlyphs">2000</text>
<text x="682.21" y="530.3" textLength="30.58" lengthAdjust="spacingAndGlyphs">2022</text>
</g>

<!-- entity labels -->
<g fill="none" stroke="#ccc" stroke-width="1">
<polyline points="716,109.7 728.7,109.7 730,111.2 732.5,111.2"/>
<polyline points="716,128.3 725.7,128.3 725.7,129.8 732.5,129.8"/>
<polyline points="716,129.2 722.7,129.2 722.7,147.5 732.5,147.5"/>
<polyline points="716,129.8 719.5,129.8 719.5,165.5 732.5,165.5"/>
<line x1="716" x2="732.5" y1="195.5" y2="195.5"/>
<line x1="716" x2="732.5" y1="234.9" y2="234.9"/>
<line x1="716" x2="732.5" y1="252" y2="252"/>
<line x1="716" x2="732.5" y1="283" y2="283"/>
</g>
<g class="sans" font-size="12.8">
<text x="736.93" y="115.6" fill="#883039" textLength="45.85" lengthAdjust="spacingAndGlyphs">Sweden</text>
<text x="736.96" y="133.6" fill="#B13507" textLength="38.37" lengthAdjust="spacingAndGlyphs">France</text>
<text y="151.8" fill="#00295B"><tspan x="736.59" textLength="38.19" lengthAdjust="spacingAndGlyphs">United</tspan> <tspan x="778.96" textLength="51.73" lengthAdjust="spacingAndGlyphs">Kingdom</tspan></text>
<text x="737.09" y="170.1" fill="#2C8465" textLength="33.03" lengthAdjust="spacingAndGlyphs">Japan</text>
<text x="736.58" y="200.5" fill="#4C6A9C" textLength="32.97" lengthAdjust="spacingAndGlyphs">China</text>
<text x="736.63" y="239.6" fill="#996D39" textLength="54.67" lengthAdjust="spacingAndGlyphs">Indonesia</text>
<text y="256.5" fill="#6D3E91"><tspan x="736.73" textLength="15.24" lengthAdjust="spacingAndGlyphs">Sri</tspan> <tspan x="754.82" textLength="33.53" lengthAdjust="spacingAndGlyphs">Lanka</tspan></text>
<text x="736.60" y="287.3" fill="#A2559C" textLength="27.75" lengthAdjust="spacingAndGlyphs">India</text>
</g>

<!-- footer -->
<g class="sans" font-size="12.5" fill="#777">
<text y="561.0"><tspan x="16.08" font-weight="700" textLength="26.92" lengthAdjust="spacingAndGlyphs">Data</tspan> <tspan x="46.83" font-weight="700" textLength="42.27" lengthAdjust="spacingAndGlyphs">source:</tspan> <tspan x="91.59" textLength="23.47" lengthAdjust="spacingAndGlyphs">Bolt</tspan> <tspan x="118.27" textLength="20.54" lengthAdjust="spacingAndGlyphs">and</tspan> <tspan x="142.73" textLength="20.27" lengthAdjust="spacingAndGlyphs">van</tspan> <tspan x="166.33" textLength="43.00" lengthAdjust="spacingAndGlyphs">Zanden</tspan> <tspan x="213.00" textLength="5.71" lengthAdjust="spacingAndGlyphs">–</tspan> <tspan x="222.76" textLength="57.01" lengthAdjust="spacingAndGlyphs">Maddison</tspan> <tspan x="283.17" textLength="39.54" lengthAdjust="spacingAndGlyphs">Project</tspan> <tspan x="326.97" textLength="52.55" lengthAdjust="spacingAndGlyphs">Database</tspan> <tspan x="383.27" textLength="30.31" lengthAdjust="spacingAndGlyphs">2023</tspan></text>
<text y="580.7"><tspan x="15.99" font-weight="700" textLength="33.00" lengthAdjust="spacingAndGlyphs">Note:</tspan> <tspan x="51.44" textLength="23.02" lengthAdjust="spacingAndGlyphs">This</tspan> <tspan x="78.19" textLength="25.46" lengthAdjust="spacingAndGlyphs">data</tspan> <tspan x="107.31" textLength="7.94" lengthAdjust="spacingAndGlyphs">is</tspan> <tspan x="118.28" textLength="59.04" lengthAdjust="spacingAndGlyphs">expressed</tspan> <tspan x="179.95" textLength="9.97" lengthAdjust="spacingAndGlyphs">in</tspan> <tspan x="191.98" textLength="84.62" lengthAdjust="spacingAndGlyphs">international-$</tspan> <tspan x="280.82" textLength="9.68" lengthAdjust="spacingAndGlyphs">at</tspan> <tspan x="295.12" textLength="29.10" lengthAdjust="spacingAndGlyphs">2011</tspan> <tspan x="328.35" textLength="37.41" lengthAdjust="spacingAndGlyphs">prices.</tspan></text>
<text y="561.0"><tspan x="564.65" textLength="93.85" lengthAdjust="spacingAndGlyphs">OurWorldinData</tspan><tspan x="659.05" textLength="22.28" lengthAdjust="spacingAndGlyphs">.org</tspan><tspan x="681.14" textLength="5.43" lengthAdjust="spacingAndGlyphs">/</tspan><tspan x="686.79" textLength="54.22" lengthAdjust="spacingAndGlyphs">economic</tspan><tspan x="741.21" textLength="5.08" lengthAdjust="spacingAndGlyphs">-</tspan><tspan x="746.28" textLength="41.06" lengthAdjust="spacingAndGlyphs">growth</tspan> <tspan x="790.6">|</tspan> <tspan x="796.55" textLength="18.14" lengthAdjust="spacingAndGlyphs">CC</tspan> <tspan x="817.74" textLength="16.32" lengthAdjust="spacingAndGlyphs">BY</tspan></text>
</g>
</svg>
</body>
</html>
